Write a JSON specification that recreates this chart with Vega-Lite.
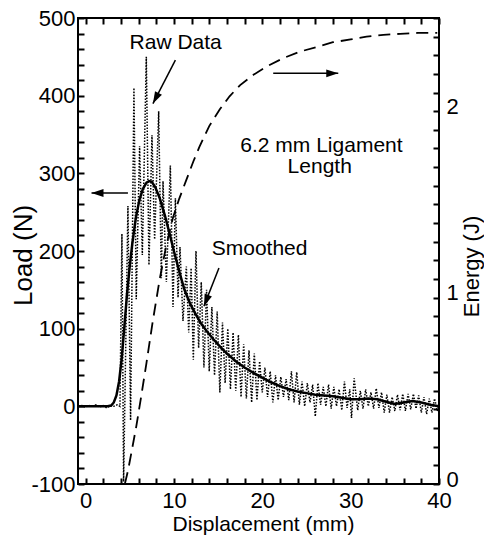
{
  "$schema": "https://vega.github.io/schema/vega-lite/v6.json",
  "width": 361,
  "height": 466,
  "autosize": "none",
  "padding": {"left": 78, "top": 18, "right": 45, "bottom": 58},
  "background": "white",
  "config": {
    "view": {"stroke": "black", "strokeWidth": 2},
    "font": "Liberation Sans",
    "axis": {
      "grid": false,
      "domain": false,
      "ticks": true,
      "tickColor": "black",
      "tickWidth": 2,
      "tickSize": -6,
      "tickCount": 60,
      "labelFont": "Liberation Sans",
      "labelFontSize": 22,
      "labelColor": "black",
      "labelOverlap": false,
      "labelFlush": false,
      "labelBound": false,
      "titleFont": "Liberation Sans",
      "titleFontSize": 21,
      "titleFontWeight": "normal",
      "titleColor": "black"
    }
  },
  "datasets": {
    "raw": [
      {"x": -0.85, "load": 0}, {"x": -0.4, "load": 1}, {"x": 0.0, "load": -1}, {"x": 0.4, "load": 1},
      {"x": 0.8, "load": 0}, {"x": 1.2, "load": 2}, {"x": 1.6, "load": -1}, {"x": 2.0, "load": 1},
      {"x": 2.4, "load": -2}, {"x": 2.8, "load": 1}, {"x": 3.2, "load": 0}, {"x": 3.6, "load": 2},
      {"x": 3.9, "load": 0}, {"x": 4.12, "load": 222}, {"x": 4.31, "load": -97}, {"x": 4.8, "load": 258},
      {"x": 5.1, "load": -18}, {"x": 5.48, "load": 410}, {"x": 5.74, "load": 138}, {"x": 6.12, "load": 335},
      {"x": 6.43, "load": 195}, {"x": 6.88, "load": 450}, {"x": 7.18, "load": 182}, {"x": 7.52, "load": 349},
      {"x": 7.82, "load": 215}, {"x": 8.28, "load": 380}, {"x": 8.58, "load": 165}, {"x": 8.77, "load": 290},
      {"x": 9.15, "load": 160}, {"x": 9.6, "load": 310}, {"x": 9.9, "load": 128}, {"x": 10.17, "load": 268},
      {"x": 10.47, "load": 140}, {"x": 10.69, "load": 205}, {"x": 11.03, "load": 110}, {"x": 11.41, "load": 180},
      {"x": 11.68, "load": 95}, {"x": 11.95, "load": 178}, {"x": 12.2, "load": 60}, {"x": 12.5, "load": 200},
      {"x": 12.8, "load": 75}, {"x": 13.1, "load": 160}, {"x": 13.4, "load": 50}, {"x": 13.7, "load": 150},
      {"x": 14.0, "load": 45}, {"x": 14.3, "load": 128}, {"x": 14.6, "load": 40}, {"x": 14.9, "load": 122},
      {"x": 15.2, "load": 18}, {"x": 15.5, "load": 108}, {"x": 15.8, "load": 30}, {"x": 16.1, "load": 100},
      {"x": 16.4, "load": 22}, {"x": 16.7, "load": 95}, {"x": 17.0, "load": 20}, {"x": 17.3, "load": 92},
      {"x": 17.6, "load": 12}, {"x": 17.9, "load": 80}, {"x": 18.2, "load": 10}, {"x": 18.5, "load": 72},
      {"x": 18.8, "load": 5}, {"x": 19.1, "load": 68}, {"x": 19.4, "load": 8}, {"x": 19.7, "load": 58},
      {"x": 20.0, "load": 18}, {"x": 20.3, "load": 50}, {"x": 20.6, "load": 12}, {"x": 20.9, "load": 45},
      {"x": 21.2, "load": 5}, {"x": 21.5, "load": 40}, {"x": 21.8, "load": 8}, {"x": 22.1, "load": 38},
      {"x": 22.4, "load": 12}, {"x": 22.7, "load": 35}, {"x": 23.0, "load": 8}, {"x": 23.3, "load": 45},
      {"x": 23.6, "load": 5}, {"x": 23.9, "load": 44}, {"x": 24.2, "load": 2}, {"x": 24.5, "load": 32},
      {"x": 24.8, "load": 0}, {"x": 25.1, "load": 30}, {"x": 25.4, "load": 5}, {"x": 25.7, "load": 28},
      {"x": 26.0, "load": -13}, {"x": 26.3, "load": 30}, {"x": 26.6, "load": 2}, {"x": 26.9, "load": 25},
      {"x": 27.2, "load": 0}, {"x": 27.5, "load": 28}, {"x": 27.8, "load": -3}, {"x": 28.1, "load": 25},
      {"x": 28.4, "load": 0}, {"x": 28.7, "load": 22}, {"x": 29.0, "load": -5}, {"x": 29.3, "load": 32},
      {"x": 29.6, "load": -2}, {"x": 29.9, "load": 22}, {"x": 30.1, "load": -15}, {"x": 30.4, "load": 36},
      {"x": 30.8, "load": -5}, {"x": 31.1, "load": 20}, {"x": 31.4, "load": -3}, {"x": 31.7, "load": 22},
      {"x": 32.0, "load": 0}, {"x": 32.3, "load": 18}, {"x": 32.6, "load": -3}, {"x": 32.9, "load": 23},
      {"x": 33.2, "load": -2}, {"x": 33.5, "load": 18}, {"x": 33.8, "load": -8}, {"x": 34.1, "load": 15},
      {"x": 34.4, "load": -8}, {"x": 34.7, "load": 12}, {"x": 35.0, "load": -6}, {"x": 35.3, "load": 15},
      {"x": 35.6, "load": -5}, {"x": 35.9, "load": 16}, {"x": 36.2, "load": -6}, {"x": 36.5, "load": 16},
      {"x": 36.8, "load": -4}, {"x": 37.1, "load": 16}, {"x": 37.4, "load": -3}, {"x": 37.7, "load": 14},
      {"x": 38.0, "load": -8}, {"x": 38.3, "load": 12}, {"x": 38.6, "load": -10}, {"x": 38.9, "load": 10},
      {"x": 39.2, "load": -8}, {"x": 39.5, "load": 10}, {"x": 39.8, "load": -6}, {"x": 40.0, "load": 3}
    ],
    "smooth": [
      {"x": -0.85, "load": 0}, {"x": 1.0, "load": 0}, {"x": 2.5, "load": 0}, {"x": 2.9, "load": 1},
      {"x": 3.2, "load": 5}, {"x": 3.5, "load": 14}, {"x": 3.8, "load": 32}, {"x": 4.1, "load": 62},
      {"x": 4.4, "load": 103}, {"x": 4.7, "load": 145}, {"x": 5.0, "load": 180}, {"x": 5.3, "load": 210},
      {"x": 5.7, "load": 243}, {"x": 6.1, "load": 266}, {"x": 6.5, "load": 280}, {"x": 6.9, "load": 288},
      {"x": 7.2, "load": 290}, {"x": 7.5, "load": 289}, {"x": 7.9, "load": 282}, {"x": 8.4, "load": 268},
      {"x": 9.0, "load": 245}, {"x": 9.5, "load": 223}, {"x": 10.0, "load": 200}, {"x": 10.6, "load": 174},
      {"x": 11.2, "load": 150}, {"x": 11.8, "load": 133}, {"x": 12.4, "load": 120}, {"x": 13.0, "load": 108},
      {"x": 13.7, "load": 97}, {"x": 14.5, "load": 86}, {"x": 15.3, "load": 76}, {"x": 16.0, "load": 68},
      {"x": 17.0, "load": 58}, {"x": 18.0, "load": 50}, {"x": 19.0, "load": 43}, {"x": 20.0, "load": 37},
      {"x": 21.0, "load": 31}, {"x": 22.0, "load": 26}, {"x": 23.0, "load": 22}, {"x": 24.0, "load": 19},
      {"x": 25.0, "load": 17}, {"x": 26.0, "load": 15}, {"x": 27.0, "load": 14}, {"x": 28.0, "load": 13},
      {"x": 29.0, "load": 11}, {"x": 30.0, "load": 9}, {"x": 31.0, "load": 9}, {"x": 32.0, "load": 10},
      {"x": 33.0, "load": 9}, {"x": 34.0, "load": 6}, {"x": 35.0, "load": 3}, {"x": 36.0, "load": 5},
      {"x": 37.0, "load": 7}, {"x": 38.0, "load": 5}, {"x": 39.0, "load": 2}, {"x": 40.0, "load": 0}
    ],
    "energy": [
      {"x": 4.45, "e": 0}, {"x": 4.8, "e": 0.07}, {"x": 5.2, "e": 0.17}, {"x": 5.75, "e": 0.31},
      {"x": 6.3, "e": 0.47}, {"x": 6.9, "e": 0.65}, {"x": 7.6, "e": 0.87}, {"x": 8.4, "e": 1.1},
      {"x": 9.1, "e": 1.27}, {"x": 9.9, "e": 1.43}, {"x": 10.6, "e": 1.53}, {"x": 11.4, "e": 1.63},
      {"x": 12.2, "e": 1.73}, {"x": 12.9, "e": 1.81}, {"x": 14.0, "e": 1.92}, {"x": 15.2, "e": 2.01},
      {"x": 16.3, "e": 2.08}, {"x": 17.5, "e": 2.14}, {"x": 19.0, "e": 2.195}, {"x": 20.5, "e": 2.24},
      {"x": 22.4, "e": 2.285}, {"x": 24.3, "e": 2.32}, {"x": 26.2, "e": 2.345}, {"x": 28.0, "e": 2.37},
      {"x": 30.0, "e": 2.385}, {"x": 31.8, "e": 2.4}, {"x": 33.7, "e": 2.41}, {"x": 35.6, "e": 2.415},
      {"x": 37.6, "e": 2.42}, {"x": 39.8, "e": 2.42}
    ],
    "labels": [
      {"x": 10.2, "load": 468, "text": "Raw Data"},
      {"x": 26.7, "load": 335, "text": "6.2 mm Ligament"},
      {"x": 26.5, "load": 308, "text": "Length"},
      {"x": 19.7, "load": 202, "text": "Smoothed"}
    ],
    "arrows": [
      {"name": "raw", "x": 10.17, "load": 445.7, "x2": 7.63, "load2": 389.8},
      {"name": "left", "x": 4.8, "load": 274.7, "x2": 0.68, "load2": 274.7},
      {"name": "right", "x": 21.24, "load": 428.8, "x2": 28.6, "load2": 428.8},
      {"name": "smooth", "x": 15.1, "load": 178, "x2": 13.4, "load2": 129}
    ]
  },
  "layer": [
    {
      "layer": [
        {
          "data": {"name": "raw"},
          "mark": {"type": "line", "color": "black", "strokeWidth": 1.5, "strokeDash": [1.5, 1.5]},
          "encoding": {
            "x": {
              "field": "x", "type": "quantitative",
              "scale": {"domain": [-0.85, 40], "nice": false, "zero": false},
              "axis": {
                "orient": "bottom",
                "ticks": true,
                "tickSize": -6,
                "tickWidth": 2,
                "tickColor": "black",
                "tickCount": 60,
                "labelOverlap": false,
                "values": [0, 2, 4, 6, 8, 10, 12, 14, 16, 18, 20, 22, 24, 26, 28, 30, 32, 34, 36, 38, 40],
                "labelExpr": "datum.value % 10 === 0 ? '' + datum.value : ''",
                "labelPadding": 12,
                "title": "Displacement (mm)",
                "titleX": 185,
                "titleY": 46,
                "titleBaseline": "alphabetic"
              }
            },
            "y": {
              "field": "load", "type": "quantitative",
              "scale": {"domain": [-100, 500], "nice": false, "zero": false},
              "axis": {
                "orient": "left",
                "ticks": true,
                "tickSize": -6,
                "tickWidth": 2,
                "tickColor": "black",
                "tickCount": 60,
                "labelOverlap": false,
                "values": [-100, -80, -60, -40, -20, 0, 20, 40, 60, 80, 100, 120, 140, 160, 180, 200, 220, 240, 260, 280, 300, 320, 340, 360, 380, 400, 420, 440, 460, 480, 500],
                "labelExpr": "datum.value % 100 === 0 ? '' + datum.value : ''",
                "labelPadding": 9,
                "title": "Load (N)",
                "titleFontSize": 26,
                "titleX": -47,
                "titleY": 237,
                "titleAngle": 270,
                "titleBaseline": "alphabetic"
              }
            }
          }
        },
        {
          "data": {"name": "smooth"},
          "mark": {"type": "line", "color": "black", "strokeWidth": 2.5},
          "encoding": {
            "x": {"field": "x", "type": "quantitative"},
            "y": {"field": "load", "type": "quantitative"}
          }
        },
        {
          "data": {"name": "labels"},
          "mark": {"type": "text", "fontSize": 21, "font": "Liberation Sans", "align": "center", "baseline": "middle", "color": "black"},
          "encoding": {
            "x": {"field": "x", "type": "quantitative"},
            "y": {"field": "load", "type": "quantitative"},
            "text": {"field": "text"}
          }
        },
        {
          "data": {"name": "arrows"},
          "mark": {"type": "rule", "color": "black", "strokeWidth": 1.5},
          "encoding": {
            "x": {"field": "x", "type": "quantitative"},
            "y": {"field": "load", "type": "quantitative"},
            "x2": {"field": "x2"},
            "y2": {"field": "load2"}
          }
        },
        {
          "data": {"name": "arrows"},
          "transform": [{"filter": "datum.name === 'raw'"}],
          "mark": {"type": "point", "shape": "M0,0L0.65,2L-0.65,2Z", "size": 144, "filled": true, "color": "black", "opacity": 1, "angle": 207.5},
          "encoding": {
            "x": {"field": "x2", "type": "quantitative"},
            "y": {"field": "load2", "type": "quantitative"}
          }
        },
        {
          "data": {"name": "arrows"},
          "transform": [{"filter": "datum.name === 'smooth'"}],
          "mark": {"type": "point", "shape": "M0,0L0.65,2L-0.65,2Z", "size": 144, "filled": true, "color": "black", "opacity": 1, "angle": 201.4},
          "encoding": {
            "x": {"field": "x2", "type": "quantitative"},
            "y": {"field": "load2", "type": "quantitative"}
          }
        },
        {
          "data": {"name": "arrows"},
          "transform": [{"filter": "datum.name === 'left'"}],
          "mark": {"type": "point", "shape": "M0,0L0.65,2L-0.65,2Z", "size": 144, "filled": true, "color": "black", "opacity": 1, "angle": 270},
          "encoding": {
            "x": {"field": "x2", "type": "quantitative"},
            "y": {"field": "load2", "type": "quantitative"}
          }
        },
        {
          "data": {"name": "arrows"},
          "transform": [{"filter": "datum.name === 'right'"}],
          "mark": {"type": "point", "shape": "M0,0L0.65,2L-0.65,2Z", "size": 144, "filled": true, "color": "black", "opacity": 1, "angle": 90},
          "encoding": {
            "x": {"field": "x2", "type": "quantitative"},
            "y": {"field": "load2", "type": "quantitative"}
          }
        }
      ]
    },
    {
      "data": {"name": "energy"},
      "mark": {"type": "line", "color": "black", "strokeWidth": 1.8, "strokeDash": [12, 7]},
      "encoding": {
        "x": {
          "field": "x", "type": "quantitative",
          "scale": {"domain": [-0.85, 40], "nice": false, "zero": false},
          "axis": {
            "orient": "top",
            "ticks": true,
            "tickSize": -6,
            "tickWidth": 2,
            "tickColor": "black",
            "tickCount": 60,
            "values": [0, 2, 4, 6, 8, 10, 12, 14, 16, 18, 20, 22, 24, 26, 28, 30, 32, 34, 36, 38, 40],
            "labels": false,
            "title": null
          }
        },
        "y": {
          "field": "e", "type": "quantitative",
          "scale": {"domain": [0, 2.5], "nice": false, "zero": false},
          "axis": {
            "orient": "right",
            "ticks": true,
            "tickSize": -6,
            "tickWidth": 2,
            "tickColor": "black",
            "tickCount": 60,
            "labelOverlap": false,
            "values": [0, 0.1, 0.2, 0.3, 0.4, 0.5, 0.6, 0.7, 0.8, 0.9, 1, 1.1, 1.2, 1.3, 1.4, 1.5, 1.6, 1.7, 1.8, 1.9, 2, 2.1, 2.2, 2.3, 2.4, 2.5],
            "labelExpr": "datum.value % 1 === 0 ? '' + datum.value : ''",
            "labelPadding": 13,
            "labelOffset": -5,
            "title": "Energy (J)",
            "titleFontSize": 22,
            "titleX": 39,
            "titleY": 248,
            "titleAngle": 270,
            "titleBaseline": "alphabetic"
          }
        }
      }
    }
  ],
  "resolve": {"scale": {"y": "independent"}, "axis": {"x": "independent"}}
}
